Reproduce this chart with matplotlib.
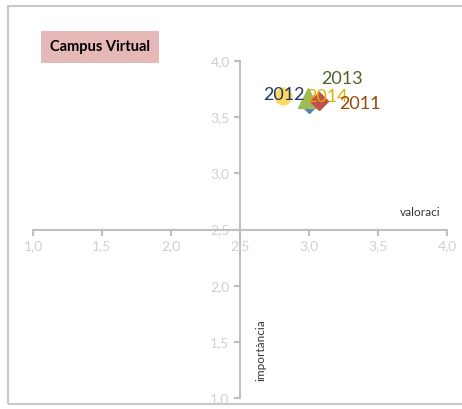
import matplotlib
matplotlib.use('Agg')
import matplotlib.pyplot as plt
from matplotlib.patches import Rectangle

# data
years = ['2011', '2012', '2013', '2014']
valoracio = [3.07, 3.00, 2.99, 2.81]
importancia = [3.64, 3.62, 3.67, 3.69]

ticks = [1.0, 1.5, 2.0, 2.5, 3.0, 3.5, 4.0]
tick_labels = ['1,0', '1,5', '2,0', '2,5', '3,0', '3,5', '4,0']

# marker style, label colour and label offset (points) per year
markers = {'2011': ('D', '#c0504d', 9, '#984807', (30, -2)),
           '2012': ('D', '#4f81bd', 9, '#1f3864', (-18, 6)),
           '2013': ('^', '#9bbb59', 14, '#4f6228', (25, 14)),
           '2014': ('o', '#ffd966', 12, '#e0b000', (32, -1))}
order = ['2014', '2012', '2013', '2011']

plt.rcParams['font.family'] = ['Lato', 'DejaVu Sans']

fig = plt.figure(figsize=(4.62, 4.09), dpi=100)
fig.patches.append(Rectangle((8 / 462, 5 / 409), 460 / 462, 398 / 409, transform=fig.transFigure,
                             fill=False, edgecolor='#c8c8c8', linewidth=1.5))

ax = fig.add_axes([33 / 462, 1 - 398 / 409, 414 / 462, 337 / 409])
ax.set_xlim(1.0, 4.0)
ax.set_ylim(1.0, 4.0)

for y in order:
    i = years.index(y)
    m, c, s, tc, off = markers[y]
    ax.plot(valoracio[i], importancia[i], marker=m, color=c, markersize=s,
            linestyle='none', markeredgecolor=c, zorder=3)
for y in order:
    i = years.index(y)
    m, c, s, tc, off = markers[y]
    ax.annotate(y, (valoracio[i], importancia[i]), xytext=off, textcoords='offset points',
                ha='center', va='center', fontsize=13, color=tc, zorder=4)

# axes crossing at 2,5
for side in ['top', 'right']:
    ax.spines[side].set_visible(False)
ax.spines['left'].set_position(('data', 2.5))
ax.spines['bottom'].set_position(('data', 2.5))
for side in ['left', 'bottom']:
    ax.spines[side].set_color('#bfbfbf')
    ax.spines[side].set_linewidth(1.5)

ax.set_xticks(ticks)
ax.set_xticklabels(tick_labels)
ax.set_yticks(ticks)
ax.set_yticklabels(tick_labels)
ax.tick_params(axis='both', colors='#bfbfbf', labelcolor='#d0d0d0', labelsize=10,
               direction='out', length=4, width=1.5)

ax.text(0.985, 0.535, 'valoraci', transform=ax.transAxes, ha='right', va='bottom',
        fontsize=8.5, color='#333333')
ax.text(0.55, 0.143, 'importància', transform=ax.transAxes, ha='center', va='center',
        rotation=90, fontsize=8.5, color='#333333')

fig.text(100 / 462, 1 - 47 / 409, 'Campus Virtual', ha='center', va='center',
         fontsize=10.5, fontweight='bold', color='black',
         bbox=dict(boxstyle='square,pad=0.6', facecolor='#e6b8b7', edgecolor='none'))

fig.savefig('out.png', dpi=100)
